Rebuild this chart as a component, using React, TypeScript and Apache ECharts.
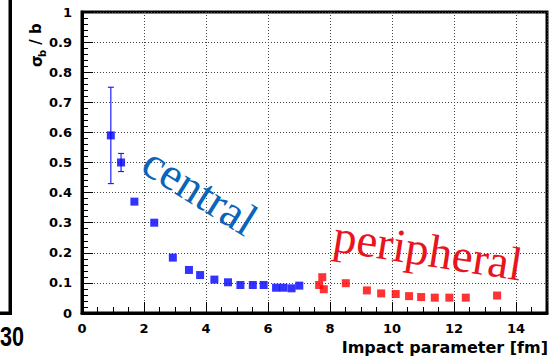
import React, { useEffect, useRef } from "react";
import * as echarts from "echarts";

// Central (blue) points
const blueX = [0.93, 1.26, 1.69, 2.33, 2.93, 3.45, 3.81, 4.27, 4.71, 5.11, 5.51, 5.86, 6.26, 6.5, 6.76, 7.01];
const blueY = [0.59, 0.5, 0.37, 0.3, 0.184, 0.143, 0.126, 0.111, 0.102, 0.093, 0.093, 0.093, 0.084, 0.084, 0.082, 0.091];
const blueErr = [0.16, 0.03, 0, 0, 0, 0, 0, 0, 0, 0, 0, 0, 0, 0, 0, 0];

// Peripheral (red) points
const redX = [7.65, 7.75, 7.8, 8.51, 9.19, 9.65, 10.12, 10.55, 10.94, 11.38, 11.85, 12.38, 13.39];
const redY = [0.093, 0.119, 0.079, 0.099, 0.075, 0.065, 0.063, 0.056, 0.053, 0.051, 0.051, 0.051, 0.058];

const xTitle = "Impact parameter [fm]";
const centralLabel = "central";
const peripheralLabel = "peripheral";

const SANS = "DejaVu Sans, Liberation Sans, Arial, sans-serif";

export default function App() {
  const ref = useRef<HTMLDivElement>(null);
  useEffect(() => {
    if (!ref.current) return;
    const chart = echarts.init(ref.current, null, { renderer: "svg" });
    const labelFont = {
      fontFamily: SANS,
      fontWeight: "bold" as const,
      fontSize: 13,
      color: "#000",
    };
    const errData = blueX
      .map((x, i) => [x, blueY[i] - blueErr[i], blueY[i] + blueErr[i]])
      .filter((d) => d[2] > d[1]);
    chart.setOption({
      animation: false,
      backgroundColor: "#fff",
      grid: {
        left: 82,
        right: 5,
        top: 12,
        bottom: 44,
        show: true,
        borderColor: "#000",
        borderWidth: 3,
        backgroundColor: "transparent",
      },
      xAxis: {
        type: "value",
        min: 0,
        max: 15,
        interval: 2,
        axisLine: { show: true, lineStyle: { color: "#000", width: 3 } },
        axisTick: { show: true, inside: true, length: 11, lineStyle: { color: "#000", width: 1 } },
        minorTick: { show: true, splitNumber: 4, length: 6, lineStyle: { color: "#000", width: 1 } },
        splitLine: { show: true, lineStyle: { color: "#444", width: 1, type: [1, 2] } },
        axisLabel: { ...labelFont, margin: 9, showMaxLabel: false },
      },
      yAxis: {
        type: "value",
        min: 0,
        max: 1,
        interval: 0.1,
        axisLine: { show: true, lineStyle: { color: "#000", width: 3 } },
        axisTick: { show: true, inside: true, length: 11, lineStyle: { color: "#000", width: 1 } },
        minorTick: { show: true, splitNumber: 5, length: 6, lineStyle: { color: "#000", width: 1 } },
        splitLine: { show: true, lineStyle: { color: "#444", width: 1, type: [1, 2] } },
        axisLabel: { ...labelFont, margin: 10 },
      },
      series: [
        {
          type: "custom",
          data: errData,
          encode: { x: 0, y: [1, 2] },
          z: 2,
          renderItem: (params: any, api: any) => {
            const lo = api.coord([api.value(0), api.value(1)]);
            const hi = api.coord([api.value(0), api.value(2)]);
            const w = 3;
            const st = { stroke: "#2020ff", lineWidth: 1.2 };
            return {
              type: "group",
              children: [
                { type: "line", shape: { x1: lo[0], y1: lo[1], x2: hi[0], y2: hi[1] }, style: st },
                { type: "line", shape: { x1: lo[0] - w, y1: lo[1], x2: lo[0] + w, y2: lo[1] }, style: st },
                { type: "line", shape: { x1: hi[0] - w, y1: hi[1], x2: hi[0] + w, y2: hi[1] }, style: st },
              ],
            };
          },
        },
        {
          type: "scatter",
          data: blueX.map((x, i) => [x, blueY[i]]),
          symbol: "rect",
          symbolSize: 8,
          itemStyle: { color: "#0000ff" },
          z: 3,
        },
        {
          type: "scatter",
          data: redX.map((x, i) => [x, redY[i]]),
          symbol: "rect",
          symbolSize: 8,
          itemStyle: { color: "#ff0000" },
          z: 3,
        },
      ],
      graphic: [
        // remnant of neighbouring figure
        { type: "rect", shape: { x: 8.5, y: 0, width: 3.5, height: 315 }, style: { fill: "#000" } },
        { type: "rect", shape: { x: 0, y: 311.5, width: 12, height: 3.5 }, style: { fill: "#000" } },
        {
          type: "text",
          x: 0,
          y: 337,
          scaleX: 0.8,
          style: {
            text: "30",
            fontFamily: "Liberation Sans, Arial, sans-serif",
            fontWeight: "bold",
            fontSize: 27,
            fill: "#000",
            textAlign: "left",
            textVerticalAlign: "middle",
          },
        },
        // y axis title
        {
          type: "group",
          x: 37,
          y: 67,
          rotation: Math.PI / 2,
          children: [
            {
              type: "text",
              x: 0,
              y: 0,
              style: {
                text: "σ",
                fontFamily: SANS,
                fontWeight: "bold",
                fontSize: 15,
                fill: "#000",
                textAlign: "left",
                textVerticalAlign: "middle",
              },
            },
            {
              type: "text",
              x: 10,
              y: 5,
              style: {
                text: "b",
                fontFamily: SANS,
                fontWeight: "bold",
                fontSize: 10,
                fill: "#000",
                textAlign: "left",
                textVerticalAlign: "middle",
              },
            },
            {
              type: "text",
              x: 17,
              y: -1,
              style: {
                text: " / b",
                fontFamily: SANS,
                fontWeight: "bold",
                fontSize: 15,
                fill: "#000",
                textAlign: "left",
                textVerticalAlign: "middle",
              },
            },
          ],
        },
        // x axis title
        {
          type: "text",
          x: 548,
          y: 347,
          style: {
            text: xTitle,
            fontFamily: SANS,
            fontWeight: "bold",
            fontSize: 16,
            fill: "#000",
            textAlign: "right",
            textVerticalAlign: "middle",
          },
        },
        {
          type: "text",
          x: 200,
          y: 191,
          rotation: (-32 * Math.PI) / 180,
          z: 10,
          style: {
            text: centralLabel,
            fontFamily: "Liberation Serif, Times New Roman, serif",
            fontSize: 46,
            fill: "#0a64b9",
            textAlign: "center",
            textVerticalAlign: "middle",
          },
        },
        {
          type: "text",
          x: 428,
          y: 250,
          rotation: (-9 * Math.PI) / 180,
          z: 10,
          style: {
            text: peripheralLabel,
            fontFamily: "Liberation Serif, Times New Roman, serif",
            fontSize: 47,
            fill: "#e8141e",
            textAlign: "center",
            textVerticalAlign: "middle",
          },
        },
      ],
    });
    return () => chart.dispose();
  }, []);
  return (
    <div
      ref={ref}
      style={{ position: "fixed", left: 0, top: 0, width: 552, height: 357, background: "#fff" }}
    />
  );
}
